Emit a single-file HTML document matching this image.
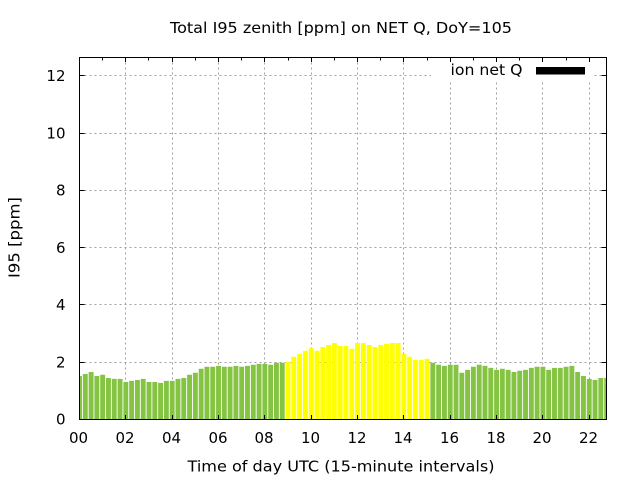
<!DOCTYPE html>
<html>
<head>
<meta charset="utf-8">
<style>
html,body{margin:0;padding:0;background:#fff;}
svg{display:block;}
text{font-family:"DejaVu Sans","Liberation Sans",sans-serif;fill:#000;}
</style>
</head>
<body>
<svg width="640" height="480" viewBox="0 0 640 480" xmlns="http://www.w3.org/2000/svg">
<defs><clipPath id="pa"><rect x="79.5" y="57.5" width="527" height="362"/></clipPath></defs>
<rect width="640" height="480" fill="#fff"/>
<path fill="none" stroke="#a0a0a0" stroke-width="1" stroke-dasharray="2,3" d="M125.5 57.5V419.5M172.5 57.5V419.5M218.5 57.5V419.5M264.5 57.5V419.5M311.5 57.5V419.5M357.5 57.5V419.5M403.5 57.5V419.5M450.5 57.5V419.5M496.5 57.5V419.5M542.5 57.5V419.5M589.5 57.5V419.5M79.5 362.5H606.5M79.5 304.5H606.5M79.5 247.5H606.5M79.5 190.5H606.5M79.5 133.5H606.5M79.5 75.5H606.5"/>
<rect x="431" y="58" width="163" height="22" fill="#fff"/>
<g clip-path="url(#pa)">
<g transform="translate(79.5,419.5) scale(5.7925,-28.65)">
<path fill="#85c443" d="M-0.423 0v1.52h.846V0m.154 0v1.59h.846V0m.154 0v1.66h.846V0m.154 0v1.52h.846V0m.154 0v1.56h.846V0m.154 0v1.45h.846V0m.154 0v1.42h.846V0m.154 0v1.42h.846V0m.154 0v1.31h.846V0m.154 0v1.35h.846V0m.154 0v1.38h.846V0m.154 0v1.42h.846V0m.154 0v1.31h.846V0m.154 0v1.31h.846V0m.154 0v1.28h.846V0m.154 0v1.35h.846V0m.154 0v1.35h.846V0m.154 0v1.42h.846V0m.154 0v1.45h.846V0m.154 0v1.56h.846V0m.154 0v1.63h.846V0m.154 0v1.77h.846V0m.154 0v1.84h.846V0m.154 0v1.84h.846V0m.154 0v1.87h.846V0m.154 0v1.84h.846V0m.154 0v1.84h.846V0m.154 0v1.87h.846V0m.154 0v1.84h.846V0m.154 0v1.87h.846V0m.154 0v1.91h.846V0m.154 0v1.94h.846V0m.154 0v1.94h.846V0m.154 0v1.91h.846V0m.154 0v1.98h.846V0m.154 0v1.98h.846V0m25.154 0v1.98h.846V0m.154 0v1.91h.846V0m.154 0v1.87h.846V0m.154 0v1.91h.846V0m.154 0v1.91h.846V0m.154 0v1.63h.846V0m.154 0v1.73h.846V0m.154 0v1.84h.846V0m.154 0v1.91h.846V0m.154 0v1.87h.846V0m.154 0v1.80h.846V0m.154 0v1.73h.846V0m.154 0v1.77h.846V0m.154 0v1.73h.846V0m.154 0v1.66h.846V0m.154 0v1.70h.846V0m.154 0v1.73h.846V0m.154 0v1.80h.846V0m.154 0v1.84h.846V0m.154 0v1.84h.846V0m.154 0v1.73h.846V0m.154 0v1.80h.846V0m.154 0v1.80h.846V0m.154 0v1.84h.846V0m.154 0v1.87h.846V0m.154 0v1.66h.846V0m.154 0v1.52h.846V0m.154 0v1.42h.846V0m.154 0v1.38h.846V0m.154 0v1.45h.846V0m.154 0v1.45h.846V0z"/>
<path fill="#ffff00" d="M35.577 0v2.01h.846V0m.154 0v2.19h.846V0m.154 0v2.29h.846V0m.154 0v2.40h.846V0m.154 0v2.49h.846V0m.154 0v2.40h.846V0m.154 0v2.53h.846V0m.154 0v2.60h.846V0m.154 0v2.67h.846V0m.154 0v2.57h.846V0m.154 0v2.57h.846V0m.154 0v2.47h.846V0m.154 0v2.67h.846V0m.154 0v2.67h.846V0m.154 0v2.60h.846V0m.154 0v2.53h.846V0m.154 0v2.60h.846V0m.154 0v2.64h.846V0m.154 0v2.67h.846V0m.154 0v2.67h.846V0m.154 0v2.29h.846V0m.154 0v2.19h.846V0m.154 0v2.08h.846V0m.154 0v2.08h.846V0m.154 0v2.12h.846V0z"/>
</g>
</g>
<rect x="79.5" y="57.5" width="527" height="362" fill="none" stroke="#000" stroke-width="1"/>
<path fill="none" stroke="#000" stroke-width="1" d="M79.5 362.5h5M606.5 362.5h-5M79.5 304.5h5M606.5 304.5h-5M79.5 247.5h5M606.5 247.5h-5M79.5 190.5h5M606.5 190.5h-5M79.5 133.5h5M606.5 133.5h-5M79.5 75.5h5M606.5 75.5h-5M125.5 57.5v4.5M125.5 419.5v-4.5M172.5 57.5v4.5M172.5 419.5v-4.5M218.5 57.5v4.5M218.5 419.5v-4.5M264.5 57.5v4.5M264.5 419.5v-4.5M311.5 57.5v4.5M311.5 419.5v-4.5M357.5 57.5v4.5M357.5 419.5v-4.5M403.5 57.5v4.5M403.5 419.5v-4.5M450.5 57.5v4.5M450.5 419.5v-4.5M496.5 57.5v4.5M496.5 419.5v-4.5M542.5 57.5v4.5M542.5 419.5v-4.5M589.5 57.5v4.5M589.5 419.5v-4.5M102.5 57.5v3M148.5 57.5v3M195.5 57.5v3M241.5 57.5v3M288.5 57.5v3M334.5 57.5v3M380.5 57.5v3M427.5 57.5v3M473.5 57.5v3M519.5 57.5v3M566.5 57.5v3"/>
<text x="450.5" y="75" font-size="15" textLength="72" lengthAdjust="spacingAndGlyphs">ion net Q</text>
<rect x="536" y="67" width="49" height="7.5" fill="#000"/>
<g font-size="15" text-anchor="end">
<text x="65.5" y="424.5">0</text>
<text x="65.5" y="367.5">2</text>
<text x="65.5" y="310">4</text>
<text x="65.5" y="253">6</text>
<text x="65.5" y="195.5">8</text>
<text x="65.5" y="138.5">10</text>
<text x="65.5" y="81">12</text>
</g>
<g font-size="15" text-anchor="middle">
<text x="78.5" y="443">00</text>
<text x="125" y="443">02</text>
<text x="171.5" y="443">04</text>
<text x="218" y="443">06</text>
<text x="264" y="443">08</text>
<text x="310.5" y="443">10</text>
<text x="357" y="443">12</text>
<text x="403" y="443">14</text>
<text x="449.5" y="443">16</text>
<text x="496" y="443">18</text>
<text x="542" y="443">20</text>
<text x="588.5" y="443">22</text>
</g>
<text x="341" y="33" font-size="15" text-anchor="middle" textLength="342" lengthAdjust="spacingAndGlyphs">Total I95 zenith [ppm] on NET Q, DoY=105</text>
<text x="341" y="471.5" font-size="15" text-anchor="middle" textLength="307" lengthAdjust="spacingAndGlyphs">Time of day UTC (15-minute intervals)</text>
<text transform="translate(19.5,237.5) rotate(-90)" font-size="15" text-anchor="middle" textLength="81" lengthAdjust="spacingAndGlyphs">I95 [ppm]</text>
</svg>
</body>
</html>
